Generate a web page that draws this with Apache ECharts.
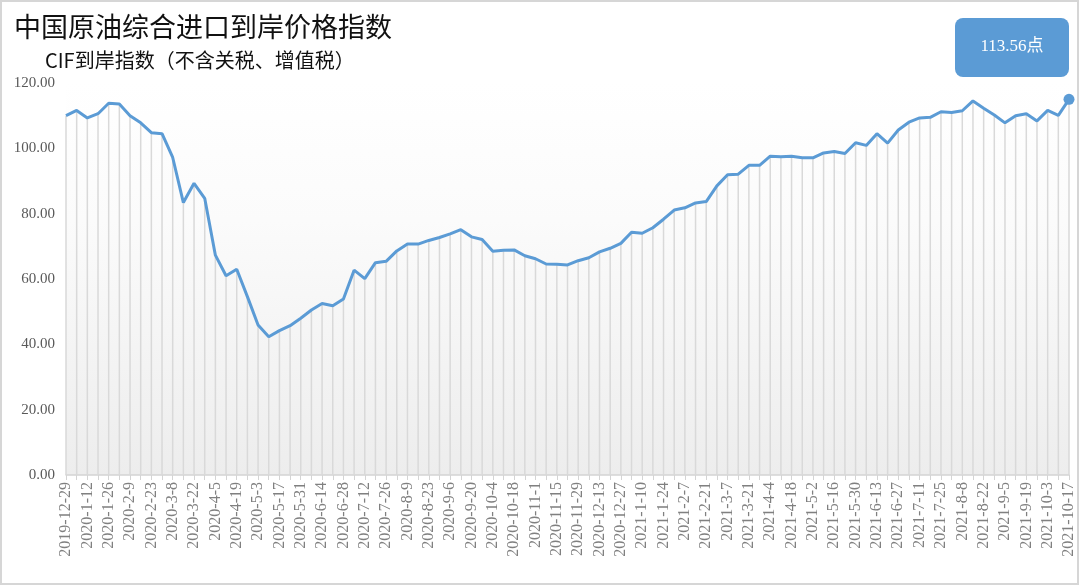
<!DOCTYPE html>
<html>
<head>
<meta charset="utf-8">
<script src="https://cdn.jsdelivr.net/npm/echarts@6/dist/echarts.min.js"></script>
<style>
  html, body { margin: 0; padding: 0; background: #fff; }
  #chart { width: 1080px; height: 586px; }
</style>
</head>
<body>
<div id="chart"></div>
<script>
const dates = [
  '2019-12-29', '2020-1-5', '2020-1-12', '2020-1-19', '2020-1-26', '2020-2-2', '2020-2-9', '2020-2-16',
  '2020-2-23', '2020-3-1', '2020-3-8', '2020-3-15', '2020-3-22', '2020-3-29', '2020-4-5', '2020-4-12',
  '2020-4-19', '2020-4-26', '2020-5-3', '2020-5-10', '2020-5-17', '2020-5-24', '2020-5-31', '2020-6-7',
  '2020-6-14', '2020-6-21', '2020-6-28', '2020-7-5', '2020-7-12', '2020-7-19', '2020-7-26', '2020-8-2',
  '2020-8-9', '2020-8-16', '2020-8-23', '2020-8-30', '2020-9-6', '2020-9-13', '2020-9-20', '2020-9-27',
  '2020-10-4', '2020-10-11', '2020-10-18', '2020-10-25', '2020-11-1', '2020-11-8', '2020-11-15', '2020-11-22',
  '2020-11-29', '2020-12-6', '2020-12-13', '2020-12-20', '2020-12-27', '2021-1-3', '2021-1-10', '2021-1-17',
  '2021-1-24', '2021-1-31', '2021-2-7', '2021-2-14', '2021-2-21', '2021-2-28', '2021-3-7', '2021-3-14',
  '2021-3-21', '2021-3-28', '2021-4-4', '2021-4-11', '2021-4-18', '2021-4-25', '2021-5-2', '2021-5-9',
  '2021-5-16', '2021-5-23', '2021-5-30', '2021-6-6', '2021-6-13', '2021-6-20', '2021-6-27', '2021-7-4',
  '2021-7-11', '2021-7-18', '2021-7-25', '2021-8-1', '2021-8-8', '2021-8-15', '2021-8-22', '2021-8-29',
  '2021-9-5', '2021-9-12', '2021-9-19', '2021-9-26', '2021-10-3', '2021-10-10', '2021-10-17'
];

const cifIndex = [
  110.0, 111.6, 109.3, 110.6, 113.8, 113.6, 110.0, 107.8, 104.8, 104.5,
  97.2, 83.4, 89.3, 84.7, 67.3, 61.0, 63.0, 54.6, 45.9, 42.3,
  44.2, 45.7, 48.0, 50.5, 52.5, 51.8, 53.9, 62.7, 60.1, 65.0,
  65.4, 68.6, 70.7, 70.7, 71.8, 72.7, 73.8, 75.1, 72.9, 72.1,
  68.5, 68.8, 68.9, 67.1, 66.2, 64.6, 64.5, 64.3, 65.6, 66.5,
  68.3, 69.4, 70.9, 74.3, 74.0, 75.7, 78.3, 81.1, 81.8, 83.3,
  83.7, 88.5, 91.9, 92.1, 94.8, 94.8, 97.6, 97.4, 97.6, 97.1,
  97.1, 98.6, 99.0, 98.4, 101.7, 100.9, 104.5, 101.6, 105.6, 108.0,
  109.3, 109.5, 111.2, 111.0, 111.5, 114.5, 112.3, 110.2, 107.8, 110.0,
  110.6, 108.4, 111.6, 110.1, 115.0
];

const latestText = '113.56点';

const lastIdx = cifIndex.length - 1;
const lastDot = cifIndex.map((v, i) => (i === lastIdx ? v : '-'));

const blue = '#5b9bd5';
const serif = '"Liberation Serif", "Noto Sans CJK SC", serif';

const chart = echarts.init(document.getElementById('chart'));

chart.setOption({
  animation: false,
  backgroundColor: '#fff',
  title: [
    {
      text: '中国原油综合进口到岸价格指数',
      left: 9,
      top: 8,
      textStyle: { fontFamily: '"Noto Sans CJK SC"', fontSize: 27, fontWeight: 'normal', color: '#111' }
    },
    {
      text: 'CIF到岸指数（不含关税、增值税）',
      left: 40,
      top: 45,
      textStyle: { fontFamily: '"Noto Sans CJK SC"', fontSize: 20, fontWeight: 'normal', color: '#111' }
    }
  ],
  grid: {
    left: 66,
    right: 11,
    top: 83,
    bottom: 111,
    show: true,
    borderWidth: 0,
    backgroundColor: {
      type: 'linear', x: 0, y: 0, x2: 0, y2: 1,
      colorStops: [
        { offset: 0, color: '#ffffff' },
        { offset: 0.35, color: '#fbfbfb' },
        { offset: 1, color: '#ededed' }
      ]
    }
  },
  xAxis: {
    type: 'category',
    data: dates,
    boundaryGap: false,
    axisLine: { lineStyle: { color: '#d4d4d4', width: 1.5 } },
    axisTick: { show: true, interval: 0, length: 5, lineStyle: { color: '#d4d4d4' } },
    axisLabel: {
      interval: 1,
      rotate: 90,
      margin: 7,
      color: '#808080',
      fontFamily: serif,
      fontSize: 16
    },
    splitLine: { show: false }
  },
  yAxis: {
    type: 'value',
    min: 0,
    max: 120,
    interval: 20,
    axisLine: { show: false },
    axisTick: { show: false },
    splitLine: { show: false },
    axisLabel: {
      margin: 11,
      color: '#595959',
      fontFamily: serif,
      fontSize: 15,
      formatter: (v) => v.toFixed(2)
    }
  },
  series: [
    {
      name: 'drop',
      type: 'bar',
      data: cifIndex,
      barWidth: 1.5,
      itemStyle: { color: '#d9d9d9' },
      silent: true,
      z: 1
    },
    {
      name: 'CIF到岸指数',
      type: 'line',
      data: cifIndex,
      symbol: 'none',
      lineStyle: { color: blue, width: 3 },
      z: 3
    },
    {
      name: 'latest',
      type: 'scatter',
      data: lastDot,
      symbol: 'circle',
      symbolSize: 11,
      clip: false,
      itemStyle: { color: blue, opacity: 1 },
      z: 4
    }
  ],
  graphic: [
    {
      type: 'rect',
      shape: { x: 1, y: 1, width: 1077, height: 583 },
      style: { fill: 'none', stroke: '#d6d6d6', lineWidth: 2 },
      silent: true
    },
    {
      type: 'rect',
      shape: { x: 955, y: 18, width: 114, height: 59, r: 8 },
      style: { fill: blue },
      z: 10
    },
    {
      type: 'text',
      x: 1012,
      y: 47,
      style: {
        text: latestText,
        fill: '#fff',
        font: '17px ' + serif,
        align: 'center',
        verticalAlign: 'middle'
      },
      z: 11
    }
  ]
});
</script>
</body>
</html>
